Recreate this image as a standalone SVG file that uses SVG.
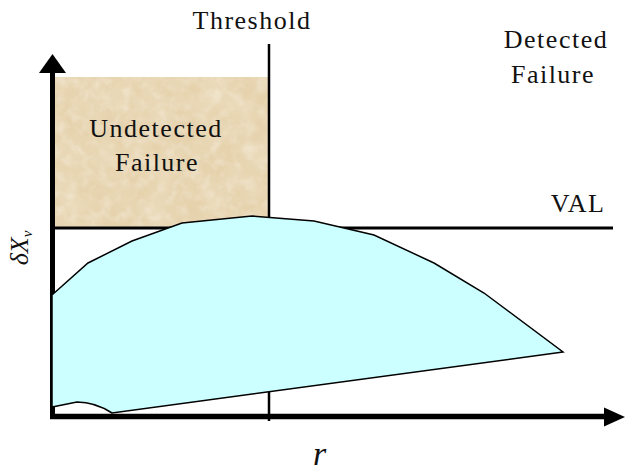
<svg xmlns="http://www.w3.org/2000/svg" width="626" height="474" viewBox="0 0 626 474">
  <style>
    .lbl { font-family: "Liberation Serif", "Times New Roman", serif; font-size: 26px; letter-spacing: 1.5px; fill: #111; text-anchor: middle; }
    .axis { stroke: #000; fill: none; }
    .head { fill: #000; stroke: none; }
  </style>
  <defs>
    <filter id="paper" x="0" y="0" width="100%" height="100%">
      <feTurbulence type="fractalNoise" baseFrequency="0.035" numOctaves="4" seed="7" result="n"/>
      <feColorMatrix in="n" type="matrix" values="0 0 0 0 0.86  0 0 0 0 0.76  0 0 0 0 0.57  1.2 0 0 0 -0.45" result="dark"/>
      <feTurbulence type="fractalNoise" baseFrequency="0.09" numOctaves="3" seed="21" result="n2"/>
      <feColorMatrix in="n2" type="matrix" values="0 0 0 0 0.95  0 0 0 0 0.90  0 0 0 0 0.78  0.9 0 0 0 -0.4" result="light"/>
      <feMerge result="m"><feMergeNode in="SourceGraphic"/><feMergeNode in="dark"/><feMergeNode in="light"/></feMerge>
      <feComposite in="m" in2="SourceGraphic" operator="in"/>
    </filter>
  </defs>
  <rect width="626" height="474" fill="#fff"/>

  <g id="undetected-failure">
    <rect x="55" y="77" width="213" height="150" fill="#E6D3AE" filter="url(#paper)"/>
    <text class="lbl" x="156" y="137">Undetected</text>
    <text class="lbl" x="157" y="171">Failure</text>
  </g>

  <g id="connectors">
    <line id="threshold-line" class="axis" x1="269" y1="44" x2="269" y2="421" stroke-width="2.5"/>
    <line id="val-line" class="axis" x1="52" y1="228" x2="613" y2="228" stroke-width="3"/>
    <line id="y-axis" class="axis" x1="52.5" y1="72" x2="52.5" y2="418.5" stroke-width="5"/>
    <polygon class="head" points="52.5,54 66,73 39,73"/>
    <line id="x-axis" class="axis" x1="50" y1="416.5" x2="605" y2="416.5" stroke-width="5.5"/>
    <polygon class="head" points="625,417 604,407.5 604,426.5"/>
  </g>

  <g id="error-region">
    <path d="M52,295 L88,263 L132,241 L182,223 L252,216 L314,221 L374,235 L434,263 L484,293 L563,352 L112,413 Q95,402 77,402 L52,407 Z" fill="#CCFFFF" stroke="#000" stroke-width="1.5" stroke-linejoin="miter"/>
  </g>

  <g id="threshold-label">
    <text class="lbl" x="252" y="29">Threshold</text>
  </g>
  <g id="detected-failure">
    <text class="lbl" x="556" y="48">Detected</text>
    <text class="lbl" x="553" y="83">Failure</text>
  </g>
  <g id="val-label">
    <text class="lbl" x="578" y="212">VAL</text>
  </g>
  <g id="y-label">
    <text transform="translate(28,248) rotate(-90)" style="font-family:'Liberation Serif','Times New Roman',serif;font-size:26px;font-style:italic;fill:#111;text-anchor:middle">δX<tspan font-size="15" dy="4">v</tspan></text>
  </g>
  <g id="x-label">
    <text x="313" y="465" style="font-family:'Liberation Serif','Times New Roman',serif;font-size:34px;font-style:italic;fill:#111">r</text>
  </g>
</svg>
